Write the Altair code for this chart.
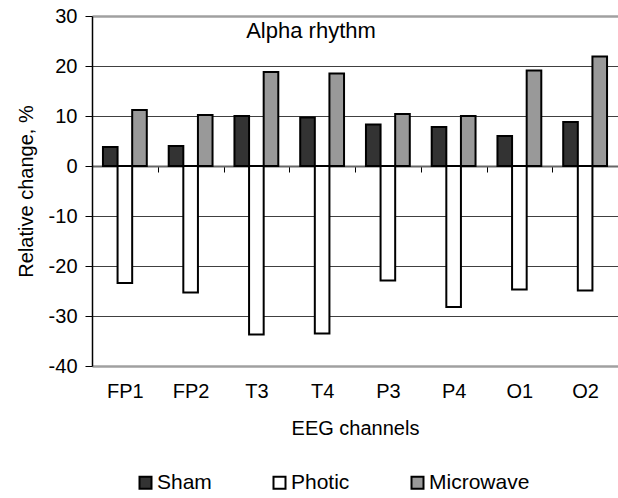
import altair as alt
import pandas as pd

channels = ["FP1", "FP2", "T3", "T4", "P3", "P4", "O1", "O2"]
groups = ["Sham", "Photic", "Microwave"]
sham = [3.8, 4.0, 10.0, 9.7, 8.3, 7.8, 6.0, 8.8]
photic = [-23.4, -25.3, -33.7, -33.5, -22.9, -28.2, -24.7, -24.9]
microwave = [11.2, 10.2, 18.8, 18.5, 10.4, 10.0, 19.1, 21.9]
y_ticks = [-40, -30, -20, -10, 0, 10, 20, 30]
colors = ["#333333", "#ffffff", "#999999"]
chart_title = ["Alpha rhythm"]

rows = []
for g, vals in zip(groups, [sham, photic, microwave]):
    for c, v in zip(channels, vals):
        rows.append({"channel": c, "group": g, "value": v})
df = pd.DataFrame(rows)

FONT = "Liberation Sans"
FS = 20

bars = alt.Chart(df).mark_bar(stroke="black", strokeWidth=2, clip=False).encode(
    x=alt.X(
        "channel:N",
        sort=channels,
        scale=alt.Scale(paddingInner=0, paddingOuter=0),
        axis=alt.Axis(
            title="EEG channels",
            offset=-200,
            tickBand="extent",
            ticks=True,
            tickSize=6,
            tickColor="black",
            tickWidth=1,
            domain=True,
            domainColor="#666666",
            domainWidth=2,
            labelPadding=225,
            labelBaseline="alphabetic",
            labelFontSize=FS,
            labelFont=FONT,
            labelColor="black",
            labelAngle=0,
            titleFontSize=FS,
            titleFont=FONT,
            titleFontWeight="normal",
            titleColor="black",
            titleBaseline="alphabetic",
            titleY=268,
            grid=False,
        ),
    ),
    xOffset=alt.XOffset(
        "group:N",
        sort=groups,
        scale=alt.Scale(domain=groups, paddingInner=0, paddingOuter=0.75),
    ),
    y=alt.Y(
        "value:Q",
        scale=alt.Scale(domain=[-40, 30], nice=False, zero=False),
        axis=alt.Axis(
            title="Relative change, %",
            values=y_ticks,
            labelExpr="'' + datum.value",
            tickSize=7,
            tickColor="black",
            domainColor="black",
            domainWidth=1.5,
            labelPadding=8,
            labelFontSize=FS,
            labelFont=FONT,
            labelColor="black",
            titleFontSize=FS,
            titleFont=FONT,
            titleFontWeight="normal",
            titleColor="black",
            titleBaseline="alphabetic",
            titleX=-60,
            grid=True,
            gridColor={"condition": {"test": "datum.value === -40 || datum.value === 30", "value": "#a0a0a0"}, "value": "#404040"},
            gridWidth={"condition": {"test": "datum.value === -40 || datum.value === 30", "value": 2.5}, "value": 1},
            gridOpacity=1,
        ),
    ),
    fill=alt.Fill(
        "group:N",
        sort=groups,
        scale=alt.Scale(domain=groups, range=colors),
        legend=alt.Legend(
            title=None,
            orient="none",
            direction="horizontal",
            legendX=43,
            legendY=456,
            symbolType="square",
            symbolSize=144,
            symbolStrokeColor="black",
            symbolStrokeWidth=2,
            symbolOffset=0,
            labelFontSize=21,
            labelFont=FONT,
            labelColor="black",
            labelOffset=1,
            columnPadding=57,
        ),
    ),
)

title_text = alt.Chart(pd.DataFrame({"t": chart_title})).mark_text(
    font=FONT,
    fontSize=22,
    color="black",
    align="center",
    baseline="alphabetic",
).encode(
    text="t:N",
    x=alt.value(219),
    y=alt.value(22),
)

chart = alt.layer(bars, title_text).properties(
    width=526,
    height=350,
).configure(
    autosize=alt.AutoSizeParams(type="none"),
    padding={"left": 92, "top": 16, "right": 0, "bottom": 132},
    background="white",
).configure_view(stroke=None)

chart.save("out.html", embed_options={"renderer": "svg", "actions": False})
